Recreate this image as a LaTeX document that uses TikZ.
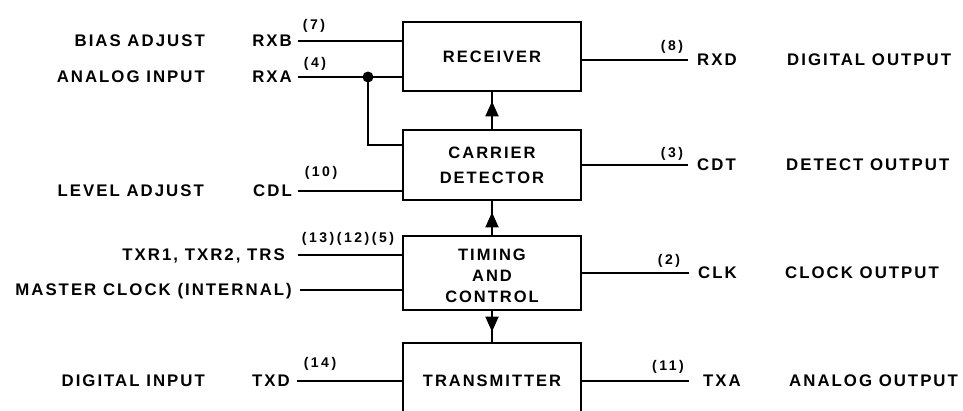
\documentclass[tikz,border=0pt]{standalone}
\usepackage{fontspec}
\setmainfont{Liberation Sans}
\newfontfamily\lblfam{Liberation Sans}[LetterSpace=12]
\newfontfamily\pinfam{Liberation Sans}[LetterSpace=18]
\usetikzlibrary{arrows.meta,calc}
\tikzset{
  lbl/.style={font=\lblfam\bfseries\fontsize{16.8}{19}\selectfont, inner sep=0pt},
  pinno/.style={font=\pinfam\bfseries\fontsize{14}{16}\selectfont, inner sep=0pt},
  blk/.style={draw, line width=2.6pt, minimum width=178pt, align=center, inner sep=0pt,
    font=\lblfam\bfseries\fontsize{16.5}{25}\selectfont},
  blktext/.style={align=center, inner sep=0pt, font=\lblfam\bfseries\fontsize{16.5}{21}\selectfont},
  wire/.style={line width=1.6pt},
  upar/.style={line width=1.8pt, -{Triangle[length=15pt,width=13pt]}},
}
\begin{document}
\begin{tikzpicture}[x=1pt,y=-1pt]
\useasboundingbox (0,0) rectangle (963,410);
\clip (0,0) rectangle (963,410);
% blocks
\node[blk, minimum height=69pt] (rx) at (492,56.5) {RECEIVER};
\node[blk, minimum height=70pt] (cd) at (492,165) {CARRIER\\DETECTOR};
\node[blk, minimum height=74pt] (tc) at (492,273) {};
\node[blktext] (tct) at (492,276) {TIMING\\AND\\CONTROL};
\node[blk, minimum height=76pt] (tx) at (492,381) {TRANSMITTER};
% internal arrows
\draw[wire, line width=1.8pt] (cd.north) -- (rx.south);
\draw[upar] (cd.north) -- ($(rx.south)+(0,9)$);
\draw[wire, line width=1.8pt] (tc.north) -- (cd.south);
\draw[upar] (tc.north) -- ($(cd.south)+(0,11)$);
\draw[wire, line width=1.8pt] (tc.south) -- (tx.north);
\draw[upar] (tc.south) -- ($(tx.north)+(0,-10)$);
% left labels
\node[lbl, anchor=base east] (tBIAS) at (205,46.5) {BIAS ADJUST};
\node[lbl, anchor=base east] (tRXB) at (292,46.5) {RXB};
\node[lbl, anchor=base east] (tANA) at (205,82.5) {ANALOG INPUT};
\node[lbl, anchor=base east] (tRXA) at (292,82.5) {RXA};
\node[lbl, anchor=base east] (tLEV) at (204,196.5) {LEVEL ADJUST};
\node[lbl, anchor=base east] (tCDL) at (292,196.5) {CDL};
\node[lbl, anchor=base east] (tTXR) at (285,260) {TXR1, TXR2, TRS};
\node[lbl, anchor=base east] (tMC) at (292,295.5) {MASTER CLOCK (INTERNAL)};
\node[lbl, anchor=base east] (tDIN) at (205,386.5) {DIGITAL INPUT};
\node[lbl, anchor=base east] (tTXD) at (290,386.5) {TXD};
% left pin numbers
\node[pinno] (p7) at (314,26) {(7)};
\node[pinno] (p4) at (315,64) {(4)};
\node[pinno] (p10) at (321,173) {(10)};
\node[pinno] (p13) at (348,239) {(13)(12)(5)};
\node[pinno] (p14) at (320,364) {(14)};
% left wire ends
\coordinate (wRXB) at (298,41);
\coordinate (wRXA) at (298,77);
\coordinate (wCDL) at (298,191);
\coordinate (wTXR) at (298,255);
\coordinate (wMC) at (300,290);
\coordinate (wTXD) at (297,381);
\coordinate (j) at (368,77);
\draw[wire] (wRXB) -- (rx.west |- wRXB);
\draw[wire] (wRXA) -- (rx.west |- wRXA);
\draw[wire] (j) |- ($(cd.west)+(0,-20)$);
\fill (j) circle (5.5pt);
\draw[wire] (wCDL) -- (cd.west |- wCDL);
\draw[wire] (wTXR) -- (tc.west |- wTXR);
\draw[wire] (wMC) -- (tc.west |- wMC);
\draw[wire] (wTXD) -- (tx.west |- wTXD);
% right labels
\node[lbl, anchor=base west] (tRXD) at (697,65.5) {RXD};
\node[lbl, anchor=base west] (tDOUT) at (787,65.5) {DIGITAL OUTPUT};
\node[lbl, anchor=base west] (tCDT) at (697,170.5) {CDT};
\node[lbl, anchor=base west] (tDET) at (786,170.5) {DETECT OUTPUT};
\node[lbl, anchor=base west] (tCLK) at (698,278.5) {CLK};
\node[lbl, anchor=base west] (tCLO) at (785,278.5) {CLOCK OUTPUT};
\node[lbl, anchor=base west] (tTXA) at (703,386.5) {TXA};
\node[lbl, anchor=base west] (tAOUT) at (789,386.5) {ANALOG OUTPUT};
% right pin numbers
\node[pinno] (p8) at (672,47) {(8)};
\node[pinno] (p3) at (672,154) {(3)};
\node[pinno] (p2) at (669,261) {(2)};
\node[pinno] (p11) at (668,367) {(11)};
% right wire ends
\coordinate (wRXD) at (688,60);
\coordinate (wCDT) at (688,165);
\coordinate (wCLK) at (689,273);
\coordinate (wTXA) at (689,381);
\draw[wire] (rx.east |- wRXD) -- (wRXD);
\draw[wire] (cd.east |- wCDT) -- (wCDT);
\draw[wire] (tc.east |- wCLK) -- (wCLK);
\draw[wire] (tx.east |- wTXA) -- (wTXA);
\end{tikzpicture}
\end{document}
